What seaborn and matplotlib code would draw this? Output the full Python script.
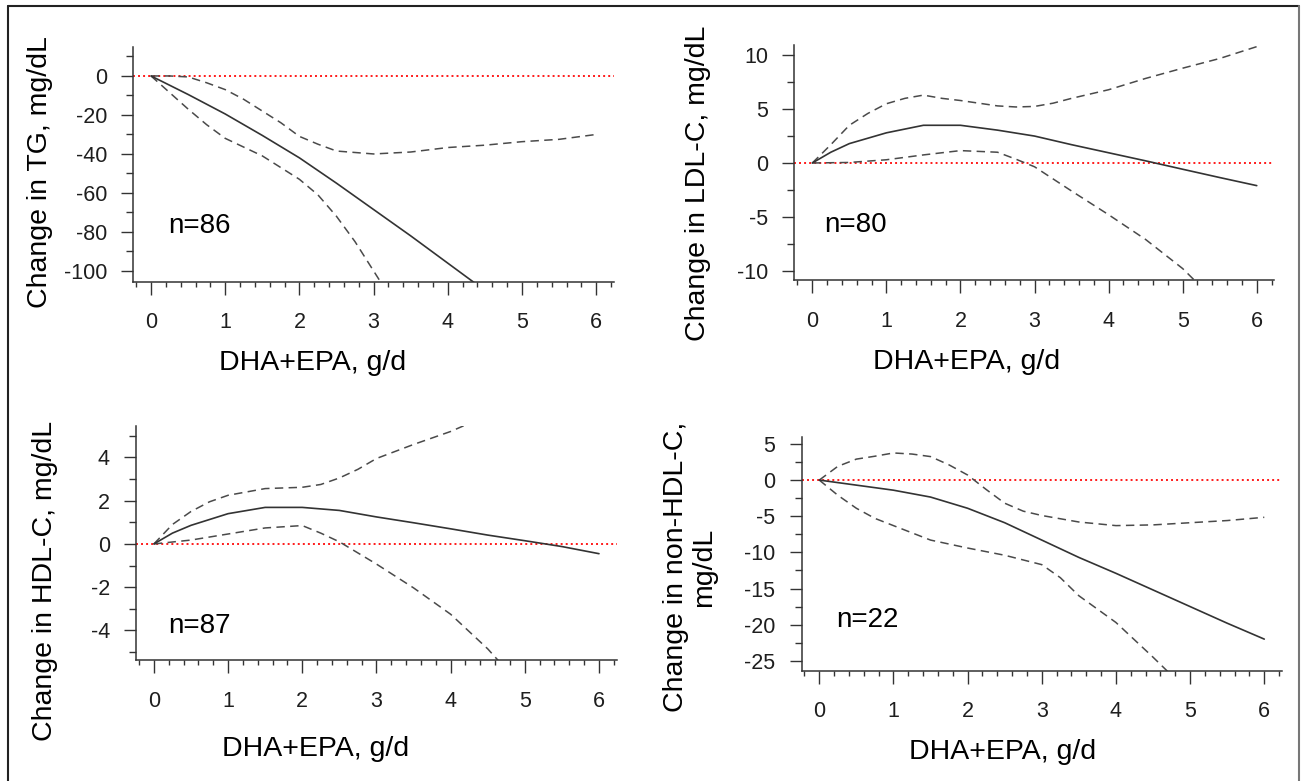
import matplotlib
matplotlib.use("Agg")
import matplotlib.pyplot as plt
from matplotlib.ticker import MultipleLocator
from matplotlib.lines import Line2D
import pandas as pd
import seaborn as sns

# ---- dose-response curves: estimate and 95% confidence band per lipid outcome ----
# Triglycerides
tg_est_x = [0, 0.5, 1, 1.5, 2, 2.5, 3, 3.5, 4, 4.5]
tg_est_y = [0, -9.5, -19.5, -30.5, -42, -55, -68.5, -82, -96, -110]
tg_upper_x = [0, 0.25, 0.5, 0.75, 1, 1.25, 1.5, 1.75, 2, 2.25, 2.5, 3, 3.5, 4, 4.5, 5, 5.5, 6]
tg_upper_y = [0, 0, -0.5, -3.5, -7, -12, -18, -24, -31, -35, -38.5, -40, -39, -36.7, -35.5, -33.7, -32.5, -30]
tg_lower_x = [0, 0.25, 0.5, 0.75, 1, 1.5, 2, 2.25, 2.5, 2.75, 3, 3.25]
tg_lower_y = [0, -8.5, -17, -25, -32, -41, -53, -61, -72, -85, -100, -115]

# LDL cholesterol
ldl_est_x = [0, 0.25, 0.5, 1, 1.5, 2, 2.5, 3, 3.5, 4, 4.5, 5, 5.5, 6]
ldl_est_y = [0, 1.0, 1.8, 2.8, 3.5, 3.5, 3.05, 2.5, 1.7, 0.95, 0.2, -0.58, -1.35, -2.1]
ldl_upper_x = [0, 0.25, 0.5, 0.75, 1, 1.25, 1.5, 1.75, 2, 2.25, 2.5, 2.75, 3, 3.25, 3.5, 4, 4.5, 5, 5.5, 6]
ldl_upper_y = [0, 1.7, 3.5, 4.6, 5.5, 6.0, 6.3, 6.0, 5.8, 5.55, 5.3, 5.2, 5.25, 5.55, 6.0, 6.8, 7.85, 8.8, 9.7, 10.8]
ldl_lower_x = [0, 0.5, 1, 1.5, 2, 2.5, 2.75, 3, 3.5, 4, 4.5, 5, 5.25]
ldl_lower_y = [0, 0.05, 0.3, 0.75, 1.15, 1.0, 0.35, -0.35, -2.6, -4.8, -7.1, -9.8, -11.5]

# HDL cholesterol
hdl_est_x = [0, 0.25, 0.5, 1, 1.5, 2, 2.5, 3, 3.5, 4, 4.5, 5, 5.5, 6]
hdl_est_y = [0, 0.5, 0.86, 1.4, 1.69, 1.69, 1.55, 1.25, 0.98, 0.7, 0.41, 0.15, -0.12, -0.45]
hdl_upper_x = [0, 0.25, 0.5, 0.75, 1, 1.5, 2, 2.25, 2.5, 2.75, 3, 3.5, 4, 4.3]
hdl_upper_y = [0, 0.9, 1.5, 1.95, 2.25, 2.56, 2.62, 2.75, 3.05, 3.45, 3.95, 4.6, 5.2, 5.65]
hdl_lower_x = [0, 0.5, 1, 1.5, 2, 2.25, 2.5, 3, 3.5, 4, 4.5, 4.75]
hdl_lower_y = [0, 0.18, 0.46, 0.74, 0.85, 0.5, 0.1, -0.93, -2.03, -3.25, -4.85, -5.8]

# non-HDL cholesterol
nh_est_x = [0, 0.5, 1, 1.5, 2, 2.5, 3, 3.5, 4, 4.5, 5, 5.5, 6]
nh_est_y = [0, -0.7, -1.4, -2.35, -3.9, -5.9, -8.3, -10.7, -12.9, -15.2, -17.5, -19.8, -22.0]
nh_upper_x = [0, 0.25, 0.5, 0.75, 1, 1.25, 1.5, 1.75, 2, 2.25, 2.5, 2.75, 3, 3.5, 4, 4.5, 5, 5.5, 6]
nh_upper_y = [0, 1.9, 2.9, 3.3, 3.75, 3.6, 3.25, 2.1, 0.7, -1.3, -3.2, -4.3, -4.9, -5.8, -6.3, -6.2, -5.9, -5.6, -5.15]
nh_lower_x = [0, 0.25, 0.5, 0.75, 1, 1.5, 2, 2.5, 3, 3.25, 3.5, 4, 4.5, 4.75]
nh_lower_y = [0, -2.1, -3.9, -5.3, -6.3, -8.3, -9.4, -10.4, -11.7, -13.5, -16.0, -19.7, -24.5, -27.0]

# panel annotations
ylabels = ["Change in TG, mg/dL", "Change in LDL-C, mg/dL",
           "Change in HDL-C, mg/dL", "Change in non-HDL-C,\nmg/dL"]
xlabel = "DHA+EPA, g/d"
n_labels = ["n=86", "n=80", "n=87", "n=22"]

# ---- styling ----
sns.set_style("ticks")
plt.rcParams["font.family"] = ["Liberation Sans", "DejaVu Sans"]
plt.rcParams["axes.unicode_minus"] = False

W, H = 1301, 781
fig = plt.figure(figsize=(W / 100, H / 100), dpi=100)
fig.patch.set_facecolor("white")

# layout of each panel in pixels: left, right, top, bottom
boxes = [(133.3, 614.3, 46.7, 281.7),
         (794.3, 1274.3, 44.7, 280.0),
         (136.3, 617.3, 426.3, 660.3),
         (801.7, 1281.7, 436.7, 670.7)]
xlims = [(-0.239, 6.244), (-0.243, 6.237), (-0.237, 6.247), (-0.237, 6.235)]
ylims = [(-105.5, 15.0), (-10.86, 10.98), (-5.38, 5.44), (-26.37, 6.0)]
ymajor = [20, 5, 2, 5]
yminor = [10, 2.5, 1, 2.5]
ylabel_pos = [(40, 172), (698, 183), (45, 581), (690, 567)]
xlabel_pos = [(313, 363), (967, 362), (316, 749), (1003, 752)]
n_pos = [(0.23, -77), (0.16, -5.8), (0.19, -3.8), (0.23, -19.35)]

curves = [
    ((tg_est_x, tg_est_y), (tg_upper_x, tg_upper_y), (tg_lower_x, tg_lower_y)),
    ((ldl_est_x, ldl_est_y), (ldl_upper_x, ldl_upper_y), (ldl_lower_x, ldl_lower_y)),
    ((hdl_est_x, hdl_est_y), (hdl_upper_x, hdl_upper_y), (hdl_lower_x, hdl_lower_y)),
    ((nh_est_x, nh_est_y), (nh_upper_x, nh_upper_y), (nh_lower_x, nh_lower_y)),
]

ink = "#333333"
for i in range(4):
    l, r, t, b = boxes[i]
    ax = fig.add_axes([l / W, 1 - b / H, (r - l) / W, (b - t) / H])
    ax.set_facecolor("white")

    # reference line at no change
    ax.axhline(0, color="#ff1a1a", lw=1.4, ls=(0, (1, 1.6)), zorder=1)

    (ex, ey), (ux, uy), (lx, ly) = curves[i]
    sns.lineplot(x=ex, y=ey, ax=ax, color=ink, lw=1.2, sort=False,
                 estimator=None, zorder=3)
    for cx, cy in ((ux, uy), (lx, ly)):
        sns.lineplot(x=cx, y=cy, ax=ax, color="#4a4a4a", lw=1.1, sort=False,
                     estimator=None, linestyle=(0, (5.5, 3.5)), zorder=2)

    ax.set_xlim(*xlims[i])
    ax.set_ylim(*ylims[i])
    ax.xaxis.set_major_locator(MultipleLocator(1))
    ax.xaxis.set_minor_locator(MultipleLocator(0.2))
    ax.yaxis.set_major_locator(MultipleLocator(ymajor[i]))
    ax.yaxis.set_minor_locator(MultipleLocator(yminor[i]))

    for side in ("top", "right"):
        ax.spines[side].set_visible(False)
    for side in ("left", "bottom"):
        ax.spines[side].set_linewidth(1.1)
        ax.spines[side].set_color(ink)

    ax.tick_params(which="both", direction="out", color=ink, width=1.0,
                   labelsize=15.5, labelcolor="#1e1e1e")
    ax.tick_params(axis="y", which="both", pad=10)
    ax.tick_params(axis="x", which="both", pad=13)
    ax.tick_params(which="major", length=9)
    ax.tick_params(axis="y", which="minor", length=5)
    ax.tick_params(axis="x", which="minor", length=3.5)

    ax.set_ylabel(ylabels[i], fontsize=20.5, rotation=90, ha="center",
                  va="center", rotation_mode="default", multialignment="center",
                  linespacing=1.15, color="black")
    ax.yaxis.set_label_coords(ylabel_pos[i][0] / W, 1 - ylabel_pos[i][1] / H,
                              transform=fig.transFigure)
    ax.set_xlabel(xlabel, fontsize=20.5, ha="center", va="center", color="black")
    ax.xaxis.set_label_coords(xlabel_pos[i][0] / W, 1 - xlabel_pos[i][1] / H,
                              transform=fig.transFigure)

    ax.text(n_pos[i][0], n_pos[i][1], n_labels[i], fontsize=20,
            ha="left", va="center", color="black")

# frame around the composite figure
fig.add_artist(Line2D([8 / W, 8 / W], [0, 1 - 6 / H], transform=fig.transFigure,
                      color="#222222", lw=1.5))
fig.add_artist(Line2D([8 / W, 1299.3 / W], [1 - 6 / H, 1 - 6 / H],
                      transform=fig.transFigure, color="#222222", lw=1.5))
fig.add_artist(Line2D([1299.3 / W, 1299.3 / W], [0, 1 - 6 / H],
                      transform=fig.transFigure, color="#777777", lw=1.5))

fig.savefig("out.png", dpi=100, facecolor="white")
